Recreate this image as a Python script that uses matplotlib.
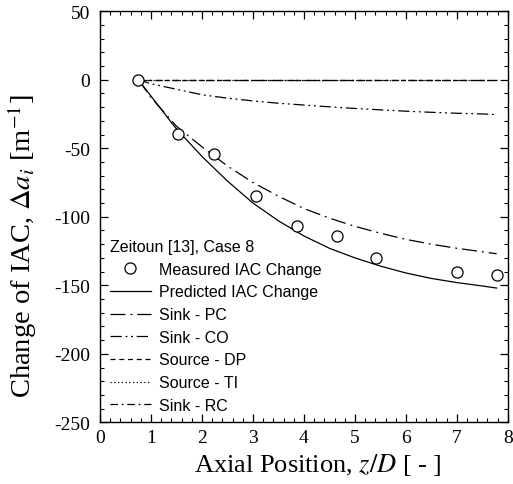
import numpy as np
import matplotlib
matplotlib.use("Agg")
import matplotlib.pyplot as plt
from matplotlib.ticker import MultipleLocator

plt.rcParams['font.family'] = ['Liberation Serif', 'DejaVu Serif']
plt.rcParams['mathtext.fontset'] = 'stix'
plt.rcParams['axes.unicode_minus'] = False

# measured IAC change (Zeitoun case 8)
z_meas = [0.74, 1.53, 2.24, 3.06, 3.86, 4.64, 5.42, 7.01, 7.78]
a_meas = [0.0, -39.7, -54.3, -84.7, -106.6, -114.3, -130.3, -140.5, -142.5]

# model curves
z_mod = [0.75, 1.0, 1.5, 2.0, 2.5, 3.0, 3.5, 4.0, 4.5, 5.0, 5.5, 6.0, 6.5, 7.0, 7.5, 7.78]
a_pred = [0, -12, -36, -56, -74, -90, -103, -114, -123, -130, -136, -141, -145, -148, -150.5, -152]
a_pc = [0, -13, -34, -49, -63, -75, -85, -94, -101, -107, -112, -116.5, -120, -123, -125.5, -127]
a_co = [0, -3, -7, -11, -13.5, -15.5, -17.2, -18.5, -19.8, -21, -22, -23, -23.8, -24.5, -25, -25.5]
a_dp = [0] * len(z_mod)
a_ti = [0] * len(z_mod)
a_rc = [0] * len(z_mod)

fig = plt.figure(figsize=(5.13, 4.85), dpi=100)
ax = fig.add_axes([0.195, 0.127, 0.795, 0.848])

lw = 0.9
ax.plot(z_meas, a_meas, 'o', mfc='white', mec='black', ms=8, mew=0.9,
        label='Measured IAC Change', zorder=5)
ax.plot(z_mod, a_pred, color='black', lw=lw, label='Predicted IAC Change')
ax.plot(z_mod, a_pc, color='black', lw=lw, dashes=[12, 4, 1.5, 4], label='Sink - PC')
ax.plot(z_mod, a_co, color='black', lw=lw, dashes=[9, 3, 1.5, 3, 1.5, 3], label='Sink - CO')
ax.plot(z_mod, a_dp, color='black', lw=lw, dashes=[4, 3], label='Source - DP')
ax.plot(z_mod, a_ti, color='black', lw=lw, dashes=[1, 2], label='Source - TI')
ax.plot(z_mod, a_rc, color='black', lw=lw, dashes=[6, 3, 1.5, 3], label='Sink - RC')

ax.set_xlim(0, 8)
ax.set_ylim(-250, 50)
ax.xaxis.set_major_locator(MultipleLocator(1))
ax.xaxis.set_minor_locator(MultipleLocator(0.2))
ax.yaxis.set_major_locator(MultipleLocator(50))
ax.yaxis.set_minor_locator(MultipleLocator(10))
ax.tick_params(which='both', direction='in', top=True, right=True, labelsize=14)
ax.tick_params(axis='y', which='major', pad=7)
ax.tick_params(axis='x', which='major', pad=5)
ax.tick_params(which='major', length=6, width=0.9)
ax.tick_params(which='minor', length=3, width=0.8)
for s in ax.spines.values():
    s.set_linewidth(1.0)

ax.set_xlabel(r'Axial Position, $\mathit{z/D}$ [ - ]', fontsize=19, labelpad=3)
ax.set_ylabel(r'Change of IAC, $\mathit{\Delta a_i}$ [m$^{-1}$]', fontsize=20.5, labelpad=11)
ax.xaxis.label.set_x(0.535)
ax.yaxis.label.set_y(0.431)

leg = ax.legend(loc='lower left', frameon=False, title='Zeitoun [13], Case 8',
                prop={'family': 'Liberation Sans', 'size': 11.5},
                title_fontproperties={'family': 'Liberation Sans', 'size': 11.5},
                handlelength=2.6, handletextpad=0.5, labelspacing=0.48,
                borderpad=0.3, borderaxespad=0.3, alignment='left')

fig.savefig('out.png', dpi=100)
